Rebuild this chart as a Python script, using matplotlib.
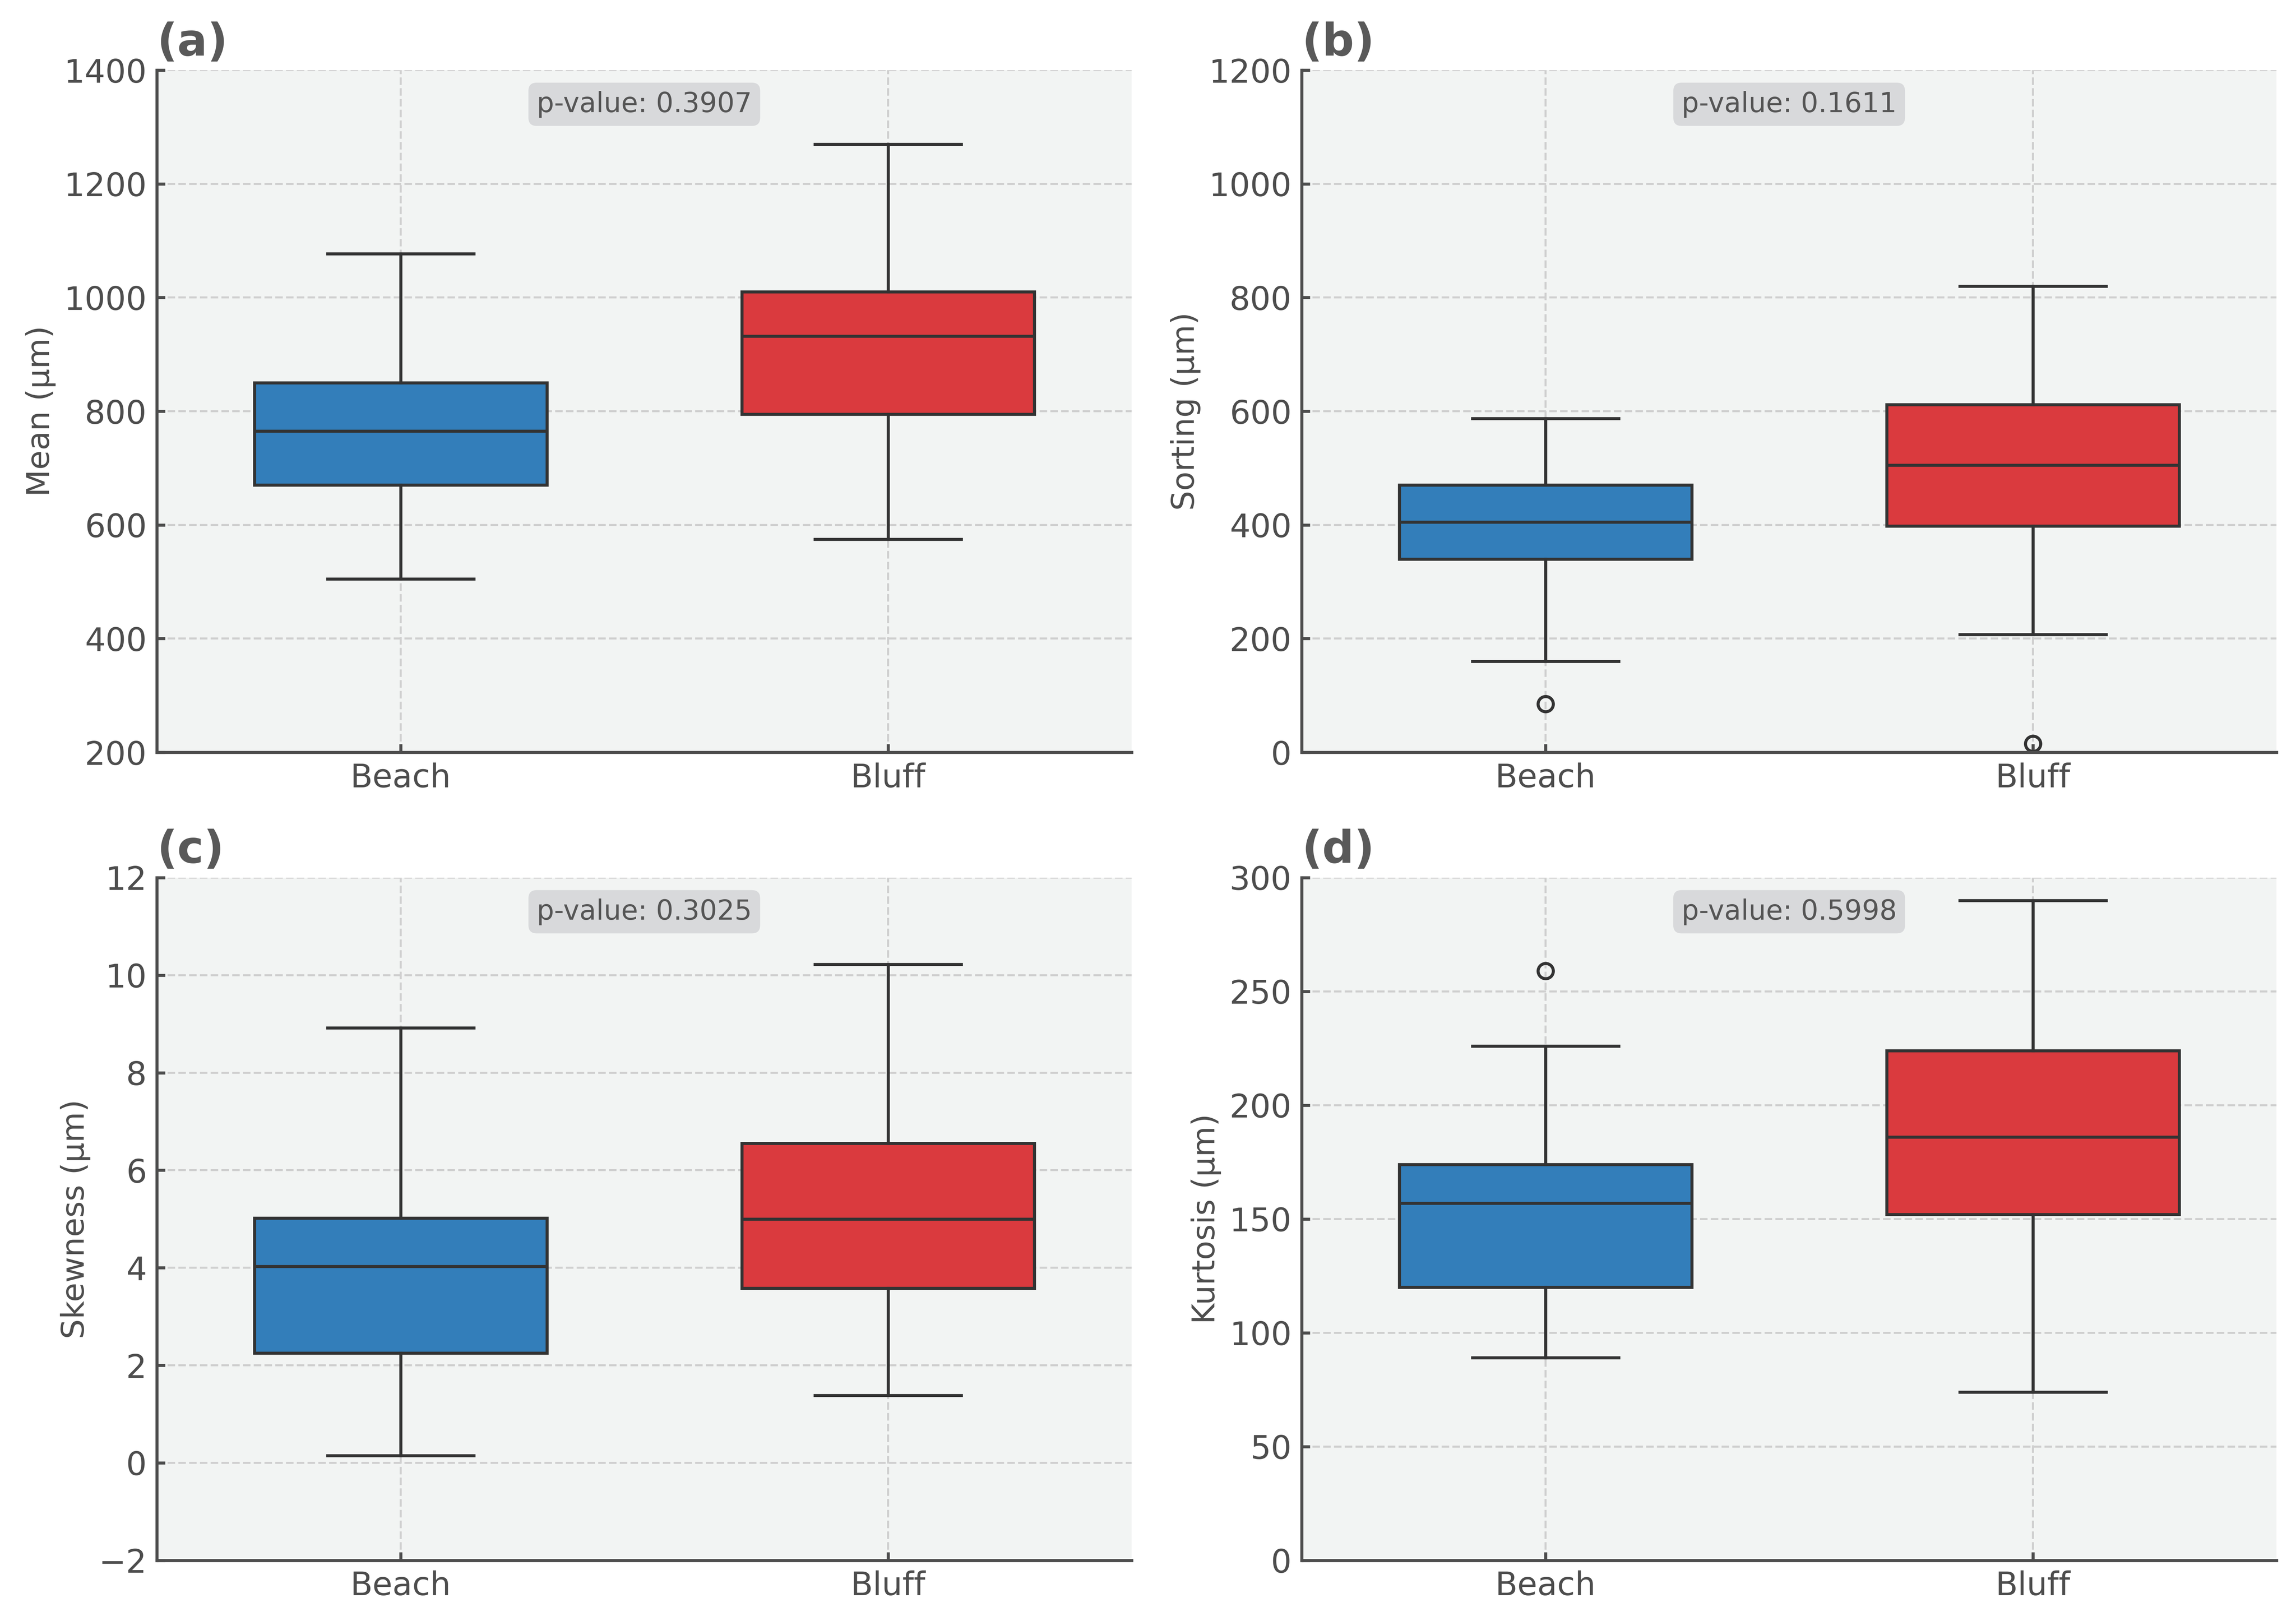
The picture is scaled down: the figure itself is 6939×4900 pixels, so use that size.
import matplotlib
matplotlib.use("Agg")
import matplotlib.pyplot as plt
import numpy as np

# ---- data ----
groups = ["Beach", "Bluff"]
panel_labels = ["(a)", "(b)", "(c)", "(d)"]
ylabels = ["Mean (μm)", "Sorting (μm)", "Skewness (μm)", "Kurtosis (μm)"]
pvalues = [0.3907, 0.1611, 0.3025, 0.5998]

# five-number summaries per group: [whislo, q1, med, q3, whishi]
mean_beach = [505, 670, 765, 850, 1077]
mean_bluff = [575, 795, 932, 1010, 1270]
sort_beach = [160, 340, 405, 470, 587]
sort_bluff = [207, 398, 505, 612, 820]
skew_beach = [0.15, 2.25, 4.03, 5.02, 8.92]
skew_bluff = [1.38, 3.58, 5.0, 6.55, 10.22]
kurt_beach = [89, 120, 157, 174, 226]
kurt_bluff = [74, 152, 186, 224, 290]

mean_fliers = [[], []]
sort_fliers = [[85], [15]]
skew_fliers = [[], []]
kurt_fliers = [[259], []]

ylims = [(200, 1400), (0, 1200), (-2, 12), (0, 300)]
ytick_steps = [200, 200, 2, 50]

summaries = [
    (mean_beach, mean_bluff, mean_fliers),
    (sort_beach, sort_bluff, sort_fliers),
    (skew_beach, skew_bluff, skew_fliers),
    (kurt_beach, kurt_bluff, kurt_fliers),
]

# ---- style ----
colors = ["#337EBA", "#DA3A3E"]
edge = "#333333"
spine_c = "#4d4d4d"
text_c = "#4d4d4d"
bg = "#F2F4F3"

fig = plt.figure(figsize=(15.7, 11.086), dpi=442)

positions = [
    [0.0683, 0.5359, 0.4246, 0.4208],
    [0.5669, 0.5359, 0.4246, 0.4208],
    [0.0683, 0.0374, 0.4246, 0.4212],
    [0.5669, 0.0374, 0.4246, 0.4212],
]

for i, (b, bl, fl) in enumerate(summaries):
    ax = fig.add_axes(positions[i])
    ax.set_facecolor(bg)
    stats = []
    for name, s, f in zip(groups, [b, bl], fl):
        stats.append(dict(label=name, whislo=s[0], q1=s[1], med=s[2],
                          q3=s[3], whishi=s[4], fliers=f))
    ax.grid(True, linestyle="--", color="#cfcfcf", linewidth=1.0, zorder=0)
    ax.set_axisbelow(True)
    bp = ax.bxp(stats, positions=[0, 1], widths=0.6, patch_artist=True,
                showfliers=True,
                boxprops=dict(edgecolor=edge, linewidth=1.5),
                medianprops=dict(color=edge, linewidth=1.5),
                whiskerprops=dict(color=edge, linewidth=1.5),
                capprops=dict(color=edge, linewidth=1.5),
                capwidths=0.3,
                flierprops=dict(marker="o", markerfacecolor="none",
                                markeredgecolor=edge, markersize=7.5,
                                markeredgewidth=1.5))
    for patch, c in zip(bp["boxes"], colors):
        patch.set_facecolor(c)
        patch.set_zorder(2)
    ax.set_xlim(-0.5, 1.5)
    lo, hi = ylims[i]
    ax.set_ylim(lo, hi)
    ax.set_yticks(np.arange(lo, hi + 0.001, ytick_steps[i]))
    ax.set_xticks([0, 1])
    ax.set_xticklabels(groups)
    for side in ["top", "right"]:
        ax.spines[side].set_visible(False)
    for side in ["left", "bottom"]:
        ax.spines[side].set_color(spine_c)
        ax.spines[side].set_linewidth(1.5)
    ax.tick_params(axis="both", direction="in", colors=spine_c,
                   labelcolor=text_c, labelsize=16, width=1.5, length=4,
                   pad=5)
    ax.set_ylabel(ylabels[i], fontsize=15.5, color=text_c)
    ax.text(0.0, 1.008, panel_labels[i], transform=ax.transAxes,
            ha="left", va="bottom", fontsize=22, fontweight="bold",
            color="#595959")
    ax.text(0.5, 0.95, f"p-value: {pvalues[i]:.4f}", transform=ax.transAxes,
            ha="center", va="center", fontsize=13.5, color="#555555",
            bbox=dict(boxstyle="round,pad=0.3", facecolor="#D8D9DB",
                      edgecolor="none"), zorder=5)

fig.savefig("out.png", dpi=442, facecolor="white")
